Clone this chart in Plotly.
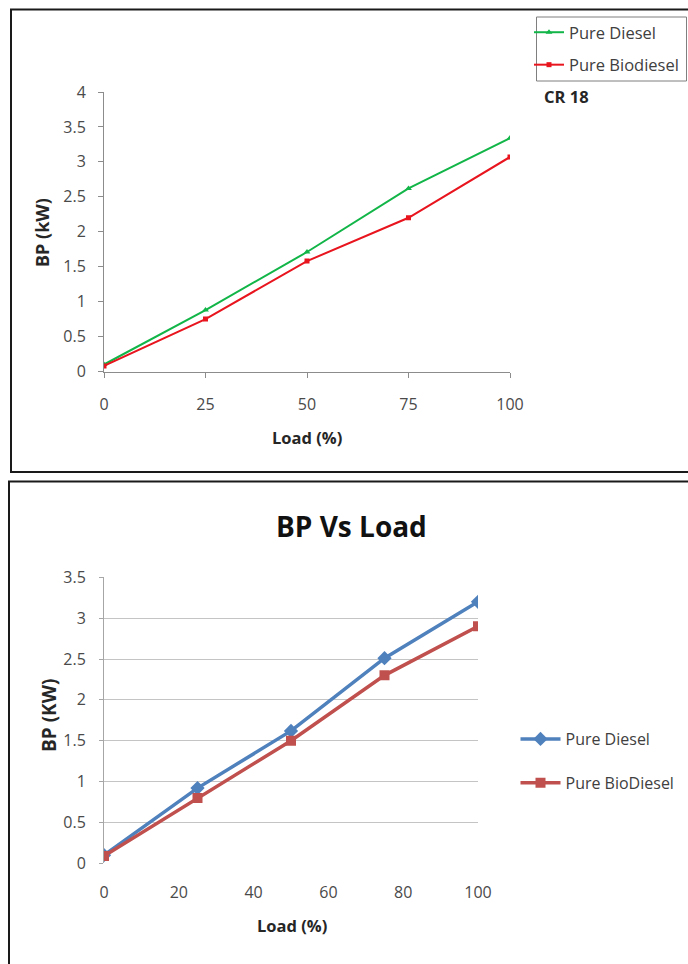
import plotly.graph_objects as go

# ---------------- data ----------------
load_top = [0, 25, 50, 75, 100]
diesel_top = [0.10, 0.88, 1.71, 2.62, 3.34]
biodiesel_top = [0.08, 0.75, 1.58, 2.20, 3.07]

load_bottom = [0, 25, 50, 75, 100]
diesel_bottom = [0.10, 0.92, 1.62, 2.51, 3.20]
biodiesel_bottom = [0.09, 0.80, 1.50, 2.30, 2.90]

top_xticks = [0, 25, 50, 75, 100]
top_yticks = [0, 0.5, 1, 1.5, 2, 2.5, 3, 3.5, 4]
bottom_xticks = [0, 20, 40, 60, 80, 100]
bottom_yticks = [0, 0.5, 1, 1.5, 2, 2.5, 3, 3.5]

# ---------------- layout helpers ----------------
W, H = 688, 964
FONT = "Open Sans, sans-serif"
TICKC = "#4a4a4a"


def px(x):
    return x / W


def py(y):
    return 1 - y / H


fig = go.Figure()

# top chart
fig.add_trace(go.Scatter(x=load_top, y=diesel_top, name="Pure Diesel", mode="lines+markers",
                         line=dict(color="#12B548", width=2),
                         marker=dict(symbol="triangle-up", size=6, color="#12B548"),
                         xaxis="x", yaxis="y", legend="legend", legendgroup="a"))
fig.add_trace(go.Scatter(x=load_top, y=biodiesel_top, name="Pure Biodiesel", mode="lines+markers",
                         line=dict(color="#E8141E", width=2),
                         marker=dict(symbol="square", size=5, color="#E8141E"),
                         xaxis="x", yaxis="y", legend="legend", legendgroup="b"))

# bottom chart
fig.add_trace(go.Scatter(x=load_bottom, y=diesel_bottom, name="Pure Diesel", mode="lines+markers",
                         line=dict(color="#4F81BD", width=3.5),
                         marker=dict(symbol="diamond", size=11, color="#4F81BD"),
                         xaxis="x2", yaxis="y2", legend="legend2", legendgroup="c"))
fig.add_trace(go.Scatter(x=load_bottom, y=biodiesel_bottom, name="Pure BioDiesel", mode="lines+markers",
                         line=dict(color="#C0504D", width=3.5),
                         marker=dict(symbol="square", size=10, color="#C0504D"),
                         xaxis="x2", yaxis="y2", legend="legend2", legendgroup="d"))

tickfont = dict(family=FONT, size=16, color=TICKC)

fig.update_layout(
    width=W, height=H, autosize=False,
    margin=dict(l=0, r=0, t=0, b=0, autoexpand=False),
    paper_bgcolor="white", plot_bgcolor="rgba(0,0,0,0)",
    xaxis=dict(domain=[px(104), px(510)], range=[0, 100], tickvals=top_xticks,
               showgrid=False, zeroline=False, showline=True, linecolor="#8c8c8c", linewidth=1,
               ticks="outside", ticklen=5, tickcolor="#8c8c8c", tickfont=tickfont,
               ticklabelstandoff=13, anchor="y", fixedrange=True, automargin=False),
    yaxis=dict(domain=[py(371.5), py(92)], range=[0, 4], tickvals=top_yticks,
               ticktext=[f"{v:g}" for v in top_yticks],
               showgrid=False, zeroline=False, showline=True, linecolor="#8c8c8c", linewidth=1,
               ticks="outside", ticklen=5, tickcolor="#8c8c8c", tickfont=tickfont,
               ticklabelstandoff=9, anchor="x", fixedrange=True, automargin=False),
    xaxis2=dict(domain=[px(104), px(478)], range=[0, 100], tickvals=bottom_xticks,
                showgrid=False, zeroline=False, showline=False,
                ticks="", tickfont=tickfont, ticklabelstandoff=18, anchor="y2", fixedrange=True,
                automargin=False),
    yaxis2=dict(domain=[py(863.3), py(577.3)], range=[0, 3.5], tickvals=bottom_yticks,
                ticktext=[f"{v:g}" for v in bottom_yticks],
                showgrid=True, gridcolor="#C4C4C4", gridwidth=1, zeroline=False,
                showline=True, linecolor="#A6A6A6", linewidth=1,
                ticks="outside", ticklen=4, tickcolor="#A6A6A6", tickfont=tickfont,
                ticklabelstandoff=10, anchor="x2", fixedrange=True, automargin=False),
    legend=dict(x=px(529), y=py(15), xanchor="left", yanchor="top",
                bgcolor="rgba(0,0,0,0)", borderwidth=0, itemwidth=30,
                font=dict(family=FONT, size=16.5, color="#404040"),
                tracegroupgap=8, traceorder="grouped"),
    legend2=dict(x=px(515.5), y=py(722), xanchor="left", yanchor="top",
                 bgcolor="rgba(0,0,0,0)", borderwidth=0, itemwidth=40,
                 font=dict(family=FONT, size=16, color="#404040"),
                 tracegroupgap=20, traceorder="grouped"),
    showlegend=True,
)

# panel frames and top legend box
shapes = [
    dict(type="rect", xref="paper", yref="paper", x0=px(11), x1=px(700), y0=py(472), y1=py(9.5),
         line=dict(color="#1a1a1a", width=2), fillcolor="rgba(0,0,0,0)", layer="below"),
    dict(type="rect", xref="paper", yref="paper", x0=px(9), x1=px(700), y0=py(990), y1=py(481.5),
         line=dict(color="#1a1a1a", width=2), fillcolor="rgba(0,0,0,0)", layer="below"),
    dict(type="rect", xref="paper", yref="paper", x0=px(536.5), x1=px(686.5), y0=py(81), y1=py(17),
         line=dict(color="#7f7f7f", width=1), fillcolor="rgba(0,0,0,0)", layer="below"),
]
fig.update_layout(shapes=shapes)

ann = [
    dict(text="<b>Load (%)</b>", x=px(307), y=py(438), font=dict(family=FONT, size=16.5, color="#262626")),
    dict(text="<b>BP (kW)</b>", x=px(42), y=py(233), textangle=-90, font=dict(family=FONT, size=18, color="#262626")),
    dict(text="<b>CR 18</b>", x=px(542), y=py(97), xanchor="left", font=dict(family=FONT, size=16.5, color="#262626")),
    dict(text="<b>BP Vs Load</b>", x=px(351), y=py(526), font=dict(family=FONT, size=28, color="#111111")),
    dict(text="<b>Load (%)</b>", x=px(292), y=py(925), font=dict(family=FONT, size=16.5, color="#262626")),
    dict(text="<b>BP (KW)</b>", x=px(49), y=py(715), textangle=-90, font=dict(family=FONT, size=19, color="#262626")),
]
for a in ann:
    a.setdefault("xanchor", "center")
    a.update(xref="paper", yref="paper", yanchor="middle", showarrow=False)
fig.update_layout(annotations=ann)

fig.write_html("out.html")
